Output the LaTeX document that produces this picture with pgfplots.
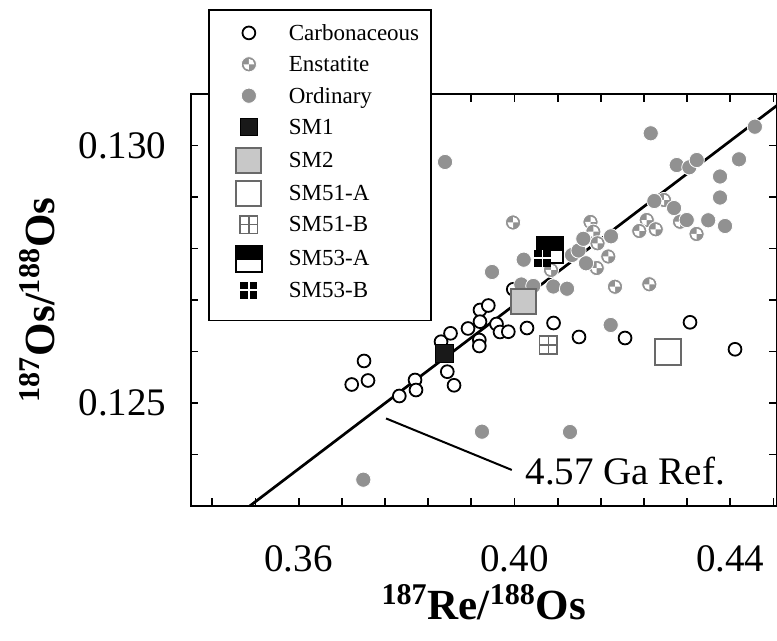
\documentclass[border=0pt]{standalone}
\usepackage{fontspec}
\setmainfont{Liberation Serif}
\usepackage{pgfplots}
\pgfplotsset{compat=1.18}
\usetikzlibrary{calc}
\definecolor{osgray}{RGB}{145,145,145}
\definecolor{smgray}{RGB}{200,200,200}
\definecolor{bordgray}{RGB}{105,105,105}

\pgfdeclareplotmark{enst}{%
  \pgfsetfillcolor{osgray}%
  \pgfpathcircle{\pgfpointorigin}{\pgfplotmarksize}%
  \pgfusepath{fill}%
  \pgfsetfillcolor{white}%
  \pgfpathmoveto{\pgfpointorigin}%
  \pgfpathlineto{\pgfpoint{0.72\pgfplotmarksize}{0pt}}%
  \pgfpatharc{0}{90}{0.72\pgfplotmarksize}%
  \pgfpathclose
  \pgfpathmoveto{\pgfpointorigin}%
  \pgfpathlineto{\pgfpoint{-0.72\pgfplotmarksize}{0pt}}%
  \pgfpatharc{180}{270}{0.72\pgfplotmarksize}%
  \pgfpathclose
  \pgfusepath{fill}%
  \pgfsetstrokecolor{white}%
  \pgfsetlinewidth{0.4pt}%
  \pgfpathcircle{\pgfpointorigin}{\pgfplotmarksize}%
  \pgfusepath{stroke}%
}
\pgfdeclareplotmark{sqplus}{%
  \pgfpathrectanglecorners{\pgfpoint{-\pgfplotmarksize}{-\pgfplotmarksize}}{\pgfpoint{\pgfplotmarksize}{\pgfplotmarksize}}%
  \pgfusepath{fill,stroke}%
  \pgfpathmoveto{\pgfpoint{-\pgfplotmarksize}{0pt}}\pgfpathlineto{\pgfpoint{\pgfplotmarksize}{0pt}}%
  \pgfpathmoveto{\pgfpoint{0pt}{-\pgfplotmarksize}}\pgfpathlineto{\pgfpoint{0pt}{\pgfplotmarksize}}%
  \pgfusepath{stroke}%
}
\pgfdeclareplotmark{halfsq}{%
  \pgfsetfillcolor{white}%
  \pgfpathrectanglecorners{\pgfpoint{-\pgfplotmarksize}{-\pgfplotmarksize}}{\pgfpoint{\pgfplotmarksize}{0pt}}%
  \pgfusepath{fill}%
  \pgfsetfillcolor{black}%
  \pgfpathrectanglecorners{\pgfpoint{-\pgfplotmarksize}{-0.1\pgfplotmarksize}}{\pgfpoint{\pgfplotmarksize}{\pgfplotmarksize}}%
  \pgfusepath{fill}%
  \pgfsetstrokecolor{black}%
  \pgfpathrectanglecorners{\pgfpoint{-\pgfplotmarksize}{-\pgfplotmarksize}}{\pgfpoint{\pgfplotmarksize}{\pgfplotmarksize}}%
  \pgfusepath{stroke}%
}
\pgfdeclareplotmark{quadsq}{%
  \pgfsetfillcolor{black}%
  \pgfpathrectanglecorners{\pgfpoint{-\pgfplotmarksize}{-\pgfplotmarksize}}{\pgfpoint{\pgfplotmarksize}{\pgfplotmarksize}}%
  \pgfusepath{fill}%
  \pgfsetstrokecolor{white}%
  \pgfsetlinewidth{0.8pt}%
  \pgfpathmoveto{\pgfpoint{-\pgfplotmarksize}{0pt}}\pgfpathlineto{\pgfpoint{\pgfplotmarksize}{0pt}}%
  \pgfpathmoveto{\pgfpoint{0pt}{-\pgfplotmarksize}}\pgfpathlineto{\pgfpoint{0pt}{\pgfplotmarksize}}%
  \pgfusepath{stroke}%
}

\pgfplotsset{
  myleg/.style={legend image code/.code={%
      \path[draw=none,fill=none] (0pt,-8.6pt) rectangle (28pt,6pt);
      \draw[##1] plot coordinates {(14pt,0.5pt)};}},
}

\begin{document}
\begin{tikzpicture}
\begin{axis}[
  name=ax, at={(0,0)}, anchor=south west,
  scale only axis, width=293.15pt, height=206pt,
  xmin=0.34, xmax=0.44865, ymin=0.123, ymax=0.131,
  xtick={0.36,0.40,0.44}, xticklabels={0.36,0.40,0.44},
  ytick={0.125,0.130}, yticklabels={0.125,0.130},
  minor xtick={0.344,0.352,0.368,0.376,0.384,0.392,0.408,0.416,0.424,0.432,0.448},
  minor ytick={0.124,0.126,0.127,0.128,0.129},
  tick align=inside, tick pos=both,
  major tick length=3.8pt, minor tick length=3.8pt,
  every tick/.style={black, line width=0.9pt},
  axis line style={line width=1pt},
  ticklabel style={font=\fontsize{19.5}{22}\selectfont},
  xticklabel style={anchor=base, inner sep=0pt, yshift=-33pt},
  yticklabel style={anchor=east, inner sep=0pt, xshift=-11.9pt},
  xlabel={\textsuperscript{187}Re/\textsuperscript{188}Os},
  ylabel={\textsuperscript{187}Os/\textsuperscript{188}Os},
  label style={font=\fontsize{21.5}{24}\selectfont\bfseries},
  xlabel style={at={(axis description cs:0.5,-0.2767)}, anchor=base, inner sep=0pt},
  ylabel style={at={(axis description cs:-0.2315,0.5)}, anchor=base, inner sep=0pt},
  legend cell align=left,
  legend style={at={(rel axis cs:0.0295,1.2063)}, anchor=north west,
    draw=black, line width=0.9pt, fill=white,
    inner xsep=6pt, inner ysep=6pt, row sep=1.1pt,
    font=\fontsize{11.5}{13}\selectfont,
    nodes={inner sep=0pt},
    /tikz/every odd column/.append style={column sep=6pt}},
]
% 4.57 Ga reference line
\addplot[black, line width=1.35pt, forget plot] coordinates {(0.35094,0.123) (0.44865,0.130778)};

% Carbonaceous
\addplot[only marks, myleg, mark=*, mark size=3.2pt, mark options={draw=black, fill=white, line width=0.9pt}] table {
x y
0.37212 0.125816
0.36984 0.125359
0.37286 0.125437
0.37866 0.125136
0.38157 0.125447
0.38175 0.125252
0.38755 0.125608
0.38880 0.125344
0.38639 0.126190
0.38815 0.126353
0.39139 0.126447
0.39361 0.126806
0.39515 0.126893
0.39361 0.126579
0.39348 0.126223
0.39348 0.126107
0.39667 0.126534
0.39732 0.126379
0.39886 0.126384
0.40232 0.126456
0.40724 0.126553
0.41196 0.126282
0.39978 0.127208
0.43253 0.126567
0.44087 0.126043
0.42049 0.126262
};
% Enstatite
\addplot[only marks, myleg, mark=enst, mark size=3.8pt] table {
x y
0.39973 0.128505
0.41409 0.128515
0.41461 0.128326
0.41539 0.128101
0.41739 0.127845
0.41524 0.127621
0.40677 0.127583
0.41863 0.127258
0.42499 0.127305
0.42451 0.128553
0.42313 0.128340
0.42618 0.128373
0.43374 0.128282
0.43068 0.128520
0.42771 0.128942
};
% Ordinary
\addplot[only marks, myleg, mark=*, mark size=3.8pt, mark options={draw=white, fill=osgray, line width=0.4pt}] table {
x y
0.37199 0.123511
0.39398 0.124443
0.41029 0.124437
0.39584 0.127544
0.40171 0.127783
0.40127 0.127301
0.40349 0.127272
0.40720 0.127262
0.40974 0.127219
0.41067 0.127874
0.41187 0.127961
0.41276 0.128188
0.41326 0.127713
0.41789 0.128237
0.41783 0.126515
0.42592 0.128922
0.42957 0.128786
0.43192 0.128553
0.43590 0.128548
0.43902 0.128437
0.43809 0.129398
0.43809 0.128990
0.42525 0.130237
0.43007 0.129621
0.43240 0.129577
0.43378 0.129718
0.44161 0.129732
0.44455 0.130365
0.38713 0.129680
};
% SM1
\addplot[only marks, myleg, mark=square*, mark size=4.3pt, mark options={draw=black, fill=black!90, line width=0.4pt}] coordinates {(0.38700,0.125965)};
% SM2
\addplot[only marks, myleg, mark=square*, mark size=6.3pt, mark options={draw=bordgray, fill=smgray, line width=1pt}] coordinates {(0.40171,0.126967)};
% SM51-A
\addplot[only marks, myleg, mark=square*, mark size=6.3pt, mark options={draw=bordgray, fill=white, line width=1pt}] coordinates {(0.42845,0.125990)};
% SM51-B
\addplot[only marks, myleg, mark=sqplus, mark size=4.4pt, mark options={draw=bordgray, fill=white, line width=0.8pt}] coordinates {(0.40627,0.126126)};
% SM53-A
\addplot[only marks, myleg, mark=halfsq, mark size=6.5pt, mark options={line width=0.9pt}] coordinates {(0.40663,0.127971)};
% SM53-B
\addplot[only marks, myleg, mark=quadsq, mark size=4.2pt] coordinates {(0.40516,0.127810)};

% annotation
\draw[black, line width=1pt] (axis cs:0.3762,0.12470) -- (axis cs:0.3995,0.12370);
\node[anchor=base west, inner sep=0pt, font=\fontsize{19.5}{22}\selectfont] at (axis cs:0.4020,0.123408) {4.57 Ga Ref.};

\legend{Carbonaceous, Enstatite, Ordinary, SM1, SM2, SM51-A, SM51-B, SM53-A, SM53-B}
\end{axis}
\pgfresetboundingbox
\path[use as bounding box] ($(ax.south west)+(-95.35pt,-67.5pt)$) rectangle ($(ax.south west)+(293.15pt,253pt)$);
\end{tikzpicture}
\end{document}
